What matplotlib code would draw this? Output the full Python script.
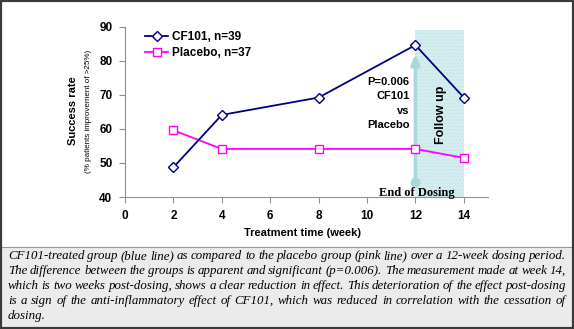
import matplotlib.pyplot as plt
from matplotlib.patches import Rectangle

weeks = [2, 4, 8, 12, 14]
cf101 = [48.7, 64.1, 69.2, 84.6, 69.2]
placebo = [59.6, 54.1, 54.1, 54.1, 51.5]

caption_lines = [
    "CF101-treated group (blue line) as compared to the placebo group (pink line) over a 12-week dosing period.",
    "The difference between the groups is apparent and significant (p=0.006). The measurement made at week 14,",
    "which is two weeks post-dosing, shows a clear reduction in effect. This deterioration of the effect post-dosing",
    "is a sign of the anti-inflammatory effect of CF101, which was reduced in correlation with the cessation of",
    "dosing.",
]

plt.rcParams['font.family'] = ['Liberation Sans', 'DejaVu Sans']

W, H = 574, 329
fig = plt.figure(figsize=(W / 100, H / 100), dpi=100)
fig.patch.set_facecolor('white')

ax = fig.add_axes([125 / W, 1 - 197 / H, (488 - 125) / W, (197 - 26.7) / H])
ax.set_xlim(0, 15)
ax.set_ylim(40, 90)

# follow-up band
ax.add_patch(Rectangle((12, 40), 2, 49, facecolor='#d6eef0', edgecolor='#c6e5e9',
                       hatch='.....', linewidth=0, zorder=1))
ax.annotate('', xy=(12, 82.8), xytext=(12, 44.5),
            arrowprops=dict(arrowstyle='-|>,head_width=0.25,head_length=0.6',
                            color='#a8d8dc', lw=2.5), zorder=2)
ax.plot([12], [44.5], 'o', color='#a8d8dc', markersize=6, zorder=2)

ax.plot(weeks, cf101, color='#000080', lw=1.3, marker='D', markersize=5,
        markerfacecolor='white', markeredgecolor='#000080', label='CF101, n=39', zorder=4)
ax.plot(weeks, placebo, color='#ff00ff', lw=1.3, marker='s', markersize=6,
        markerfacecolor='white', markeredgecolor='#ff00ff', label='Placebo, n=37', zorder=3)

ax.text(11.75, 67.5, 'P=0.006\nCF101\nvs\nPlacebo', ha='right', va='center',
        fontsize=8, fontweight='bold', linespacing=1.55, zorder=5)
ax.text(13.05, 64, 'Follow up', rotation=90, ha='center', va='center',
        fontsize=9, fontweight='bold', zorder=5)
ax.text(12.05, 41.2, 'End of Dosing', ha='center', va='center', fontsize=9,
        fontweight='bold', family=['Liberation Serif'], zorder=5)

ax.set_xticks(range(0, 15, 2))
ax.set_yticks(range(40, 91, 10))
for s in ['top', 'right']:
    ax.spines[s].set_visible(False)
for s in ['left', 'bottom']:
    ax.spines[s].set_color('#909090')
    ax.spines[s].set_linewidth(0.8)
ax.tick_params(length=4, color='#909090', labelsize=8.5, pad=5)
for lab in ax.get_xticklabels() + ax.get_yticklabels():
    lab.set_fontweight('bold')

leg = ax.legend(loc='upper left', bbox_to_anchor=(0.025, 1.035), frameon=False,
                handlelength=2.0, handletextpad=0.3, labelspacing=0.3,
                prop={'size': 8.5, 'weight': 'bold'})

fig.text(73 / W, 1 - 111 / H, 'Success rate', rotation=90, ha='center', va='center',
         fontsize=8, fontweight='bold')
fig.text(89 / W, 1 - 111 / H, '(% patients improvement of >25%)', rotation=90,
         ha='center', va='center', fontsize=5.8)
fig.text(303 / W, 1 - 233 / H, 'Treatment time (week)', ha='center', va='center',
         fontsize=8, fontweight='bold')

# caption box
fig.patches.append(Rectangle((0, 0), 1, 1 - 247 / H, transform=fig.transFigure,
                             facecolor='#ebebeb', edgecolor='#9a9a9a', lw=0.8, zorder=0))

# justified caption text
renderer = fig.canvas.get_renderer()
left_px, right_px = 8, 566
y0 = 256
for i, line in enumerate(caption_lines):
    yy = 1 - (y0 + i * 15) / H
    words = line.split(' ')
    texts = [fig.text(0, yy, w, fontsize=9.25, style='italic', family=['Liberation Serif'],
                      ha='left', va='center') for w in words]
    widths = [t.get_window_extent(renderer).width for t in texts]
    if i < len(caption_lines) - 1 and len(words) > 1:
        gap = (right_px - left_px - sum(widths)) / (len(words) - 1)
    else:
        gap = texts[0].get_window_extent(renderer).height * 0.25
    x = left_px
    for t, w in zip(texts, widths):
        t.set_x(x / W)
        x += w + gap

# outer frame
fig.patches.append(Rectangle((0, 0), 1, 1, transform=fig.transFigure, fill=False,
                             edgecolor='#3a3a3a', lw=3, zorder=10))

fig.savefig('out.png', dpi=100)
